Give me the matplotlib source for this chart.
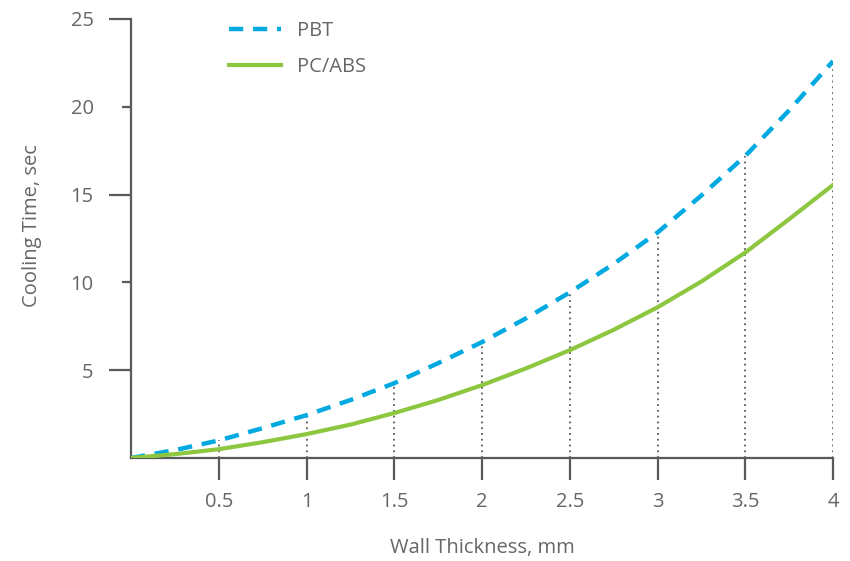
import numpy as np
import matplotlib
matplotlib.use("Agg")
import matplotlib.pyplot as plt
from matplotlib.ticker import FixedLocator

# data
thickness = [0, 0.25, 0.5, 0.75, 1, 1.25, 1.5, 1.75, 2, 2.25, 2.5, 2.75, 3, 3.25, 3.5, 3.75, 4]
pbt = [0, 0.45, 1.0, 1.7, 2.44, 3.3, 4.26, 5.4, 6.6, 7.95, 9.43, 11.05, 12.84, 14.95, 17.2, 19.8, 22.6]
pc_abs = [0, 0.22, 0.5, 0.9, 1.36, 1.9, 2.56, 3.3, 4.15, 5.1, 6.14, 7.3, 8.58, 10.05, 11.7, 13.6, 15.55]
x_ticks = [0.5, 1, 1.5, 2, 2.5, 3, 3.5, 4]
x_labels = ["0.5", "1", "1.5", "2", "2.5", "3", "3.5", "4"]
y_major = [5, 15, 25]
y_minor = [10, 20]

GREY = "#5a5a5a"
TEXT = "#666666"
BLUE = "#00a9e0"
GREEN = "#8dc63f"
FS = 14.5

plt.rcParams["font.family"] = ["Open Sans", "DejaVu Sans"]

fig = plt.figure(figsize=(8.5, 5.61), dpi=100)
ax = fig.add_axes([131 / 850, 1 - 458 / 561, (833 - 131) / 850, (458 - 19) / 561])

# dotted guides from the axis up to the PBT curve
pbt_at = dict(zip(thickness, pbt))
ax.vlines(x_ticks, 0, [pbt_at[x] for x in x_ticks], colors=GREY,
          linestyles=(0, (1, 2.2)), linewidth=1.3, zorder=1)

ax.plot(thickness, pbt, color=BLUE, lw=3.2, dashes=(3.2, 2.2), label="PBT",
        dash_capstyle="butt", zorder=3)
ax.plot(thickness, pc_abs, color=GREEN, lw=3.0, label="PC/ABS", zorder=3)

ax.set_xlim(0, 4)
ax.set_ylim(0, 25)
for s in ["top", "right"]:
    ax.spines[s].set_visible(False)
for s in ["left", "bottom"]:
    ax.spines[s].set_color(GREY)
    ax.spines[s].set_linewidth(1.6)

ax.set_xticks(x_ticks)
ax.set_xticklabels(x_labels)
ax.yaxis.set_major_locator(FixedLocator(y_major))
ax.yaxis.set_minor_locator(FixedLocator(y_minor))
ax.set_yticklabels([str(v) for v in y_major])
ax.set_yticklabels([str(v) for v in y_minor], minor=True)
ax.xaxis.set_minor_locator(FixedLocator([]))

ax.tick_params(axis="x", direction="out", length=16, width=1.6, color=GREY,
               pad=8.5, labelsize=FS, labelcolor=TEXT)
ax.tick_params(axis="y", which="major", direction="out", length=16, width=1.6,
               color=GREY, pad=11, labelsize=FS, labelcolor=TEXT)
ax.tick_params(axis="y", which="minor", direction="out", length=6.5, width=1.6,
               color=GREY, pad=20.5, labelsize=FS, labelcolor=TEXT)

fig.text(482 / 850, 1 - 548 / 561, "Wall Thickness, mm", ha="center", va="center",
         fontsize=FS, color=TEXT)
fig.text(32 / 850, 1 - 226 / 561, "Cooling Time, sec", ha="center", va="center",
         rotation=90, fontsize=FS, color=TEXT)

leg = ax.legend(loc="upper left", bbox_to_anchor=(229 / 850, 1 - 21 / 561),
                bbox_transform=fig.transFigure, frameon=False, fontsize=FS,
                handlelength=2.6, handletextpad=0.8, labelspacing=0.8,
                borderpad=0, borderaxespad=0)
for t in leg.get_texts():
    t.set_color(TEXT)

fig.savefig("out.png", dpi=100)
